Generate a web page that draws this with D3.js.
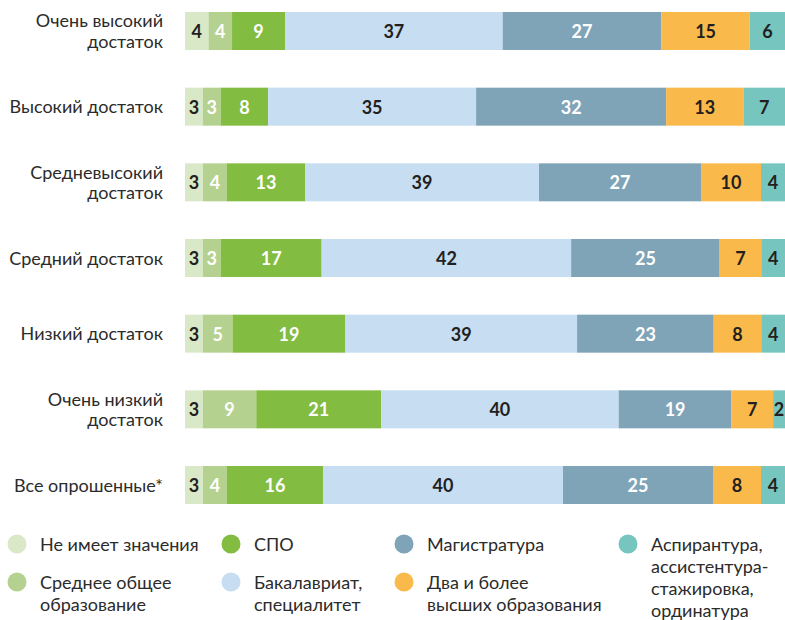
<!DOCTYPE html>
<html><head><meta charset="utf-8">
<script src="https://cdn.jsdelivr.net/npm/d3@7"></script>
<style>
html,body{margin:0;padding:0;background:#fff;}
svg{display:block;font-family:"Lato","Noto Sans",sans-serif;}
</style></head>
<body><svg id="chart" width="785" height="620"></svg>
<script>
// ---- data ----
const categories = [
  ["Очень высокий", "достаток"],
  ["Высокий достаток"],
  ["Средневысокий", "достаток"],
  ["Средний достаток"],
  ["Низкий достаток"],
  ["Очень низкий", "достаток"],
  ["Все опрошенные*"]
];
const seriesNames = [
  ["Не имеет значения"],
  ["Среднее общее", "образование"],
  ["СПО"],
  ["Бакалавриат,", "специалитет"],
  ["Магистратура"],
  ["Два и более", "высших образования"],
  ["Аспирантура,", "ассистентура-", "стажировка,", "ординатура"]
];
const noValue    = [4, 3, 3, 3, 3, 3, 3];
const secondary  = [4, 3, 4, 3, 5, 9, 4];
const spo        = [9, 8, 13, 17, 19, 21, 16];
const bachelor   = [37, 35, 39, 42, 39, 40, 40];
const master     = [27, 32, 27, 25, 23, 19, 25];
const twoHigher  = [15, 13, 10, 7, 8, 7, 8];
const postgrad   = [6, 7, 4, 4, 4, 2, 4];

const colors = ["#d9e8c7", "#b5d18f", "#82bc41", "#c6ddf2", "#7fa4b8", "#f9b94b", "#76c6bf"];
const labelColors = ["#231f20", "#ffffff", "#ffffff", "#231f20", "#ffffff", "#231f20", "#231f20"];

const seriesValues = [noValue, secondary, spo, bachelor, master, twoHigher, postgrad];
const keys = seriesValues.map((_, i) => "s" + i);
const rows = categories.map((c, r) => {
  const o = {cat: c.join(" ")};
  keys.forEach((k, i) => o[k] = seriesValues[i][r]);
  return o;
});

const svg = d3.select("#chart");
const x = d3.scaleLinear().domain([0, 1]).range([185, 785]);
const y = d3.scaleBand().domain(rows.map(d => d.cat)).range([12, 504]).paddingInner(0.498).paddingOuter(0);

const stacked = d3.stack().keys(keys).offset(d3.stackOffsetExpand)(rows);

const layers = svg.append("g").selectAll("g").data(stacked).join("g")
  .attr("fill", (d, i) => colors[i]);
layers.selectAll("rect").data(d => d).join("rect")
  .attr("x", d => x(d[0]))
  .attr("y", d => y(d.data.cat))
  .attr("width", d => x(d[1]) - x(d[0]))
  .attr("height", y.bandwidth());

const lbl = svg.append("g");
stacked.forEach((layer, i) => {
  lbl.selectAll(null).data(layer).join("text")
    .attr("x", d => (x(d[0]) + x(d[1])) / 2)
    .attr("y", d => y(d.data.cat) + y.bandwidth() / 2 + 7)
    .attr("text-anchor", "middle")
    .attr("font-size", 18)
    .attr("font-weight", 700)
    .attr("fill", labelColors[i])
    .text(d => d.data[layer.key]);
});

// category labels
const cat = svg.append("g");
categories.forEach((lines, r) => {
  const cy = y(rows[r].cat) + y.bandwidth() / 2 + 6.5;
  const t = cat.append("text")
    .attr("text-anchor", "end")
    .attr("font-size", 18)
    .attr("fill", "#2b2b2b");
  lines.forEach((ln, j) => {
    t.append("tspan").attr("x", 163)
      .attr("y", cy + (j - (lines.length - 1) / 2) * 20.5)
      .text(ln);
  });
});

// legend
const legCols = [[0, 1], [2, 3], [4, 5], [6]];
const colCx = [17, 231, 404, 628];
const rowCy = [544, 582];
const leg = svg.append("g");
legCols.forEach((items, c) => {
  items.forEach((si, r) => {
    const cy = rowCy[r];
    leg.append("circle").attr("cx", colCx[c]).attr("cy", cy).attr("r", 9.5).attr("fill", colors[si]);
    const t = leg.append("text").attr("font-size", 18).attr("fill", "#2b2b2b");
    seriesNames[si].forEach((ln, j) => {
      t.append("tspan").attr("x", colCx[c] + 23).attr("y", cy + 7 + j * 22).text(ln);
    });
  });
});
</script></body></html>
